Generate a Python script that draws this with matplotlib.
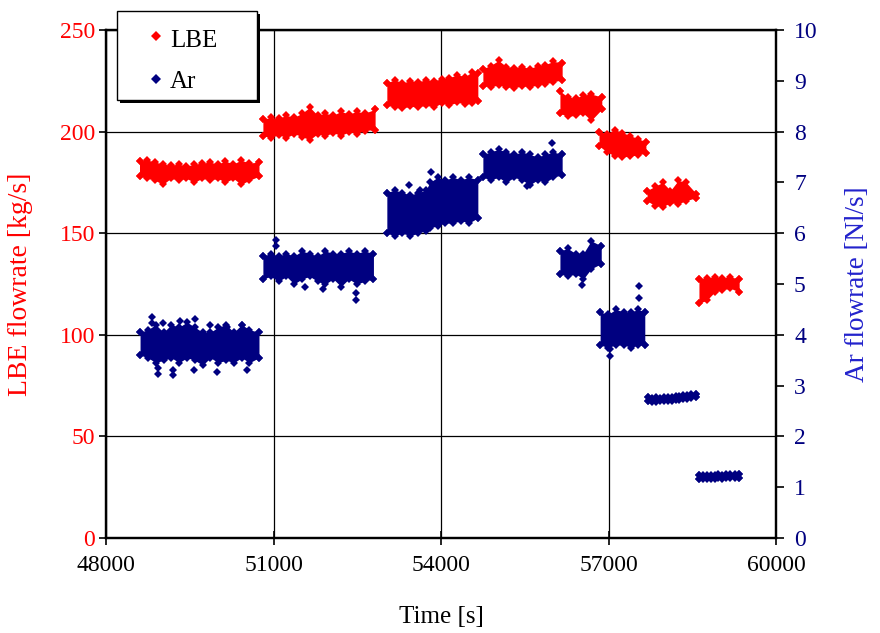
import matplotlib
matplotlib.use('Agg')
import matplotlib.pyplot as plt
from matplotlib.lines import Line2D
from matplotlib.patches import Rectangle

plt.rcParams['font.family'] = ['Liberation Serif', 'DejaVu Serif']

# ---------------- data ----------------
series_names = ['LBE', 'Ar']

# LBE flowrate [kg/s]: per run segment, sample times with the upper/lower edge of the scatter band
lbe_t = [
    [48600, 48740, 48880, 49020, 49160, 49300, 49440, 49580, 49720, 49860, 50000, 50140, 50280, 50420, 50560, 50740],
    [50810, 50950, 51090, 51230, 51370, 51510, 51650, 51790, 51930, 52070, 52210, 52350, 52490, 52630, 52820],
    [53030, 53170, 53310, 53450, 53590, 53730, 53870, 54010, 54150, 54290, 54430, 54560, 54660],
    [54750, 54890, 55030, 55170, 55310, 55450, 55590, 55730, 55870, 56010, 56170],
    [56130, 56270, 56410, 56550, 56690, 56880],
    [56830, 56970, 57110, 57250, 57390, 57530, 57670],
    [57690, 57830, 57970, 58110, 58250, 58390, 58570],
    [58620, 58760, 58900, 59040, 59180, 59340],
]
lbe_hi = [
    [185.5, 186, 185, 184, 183.5, 184, 183, 184, 184.5, 185, 184, 185.5, 184, 186, 184.5, 185],
    [206, 207, 206.5, 208, 207, 209, 212, 208, 209, 208, 210, 208.5, 210, 209, 211],
    [224, 225.5, 224, 225, 224.5, 225.5, 225, 226, 226.5, 228, 227, 229.5, 229],
    [231, 232.5, 235, 232, 231.5, 232, 231, 232.5, 233, 234.5, 234],
    [220, 217, 216.5, 218, 218.5, 217],
    [200, 199, 201, 199.5, 198, 196.5, 195],
    [171, 173, 175, 171, 176, 175, 169.5],
    [127.5, 128, 128.5, 128, 128.5, 127.5],
]
lbe_lo = [
    [178, 177, 176, 174, 177, 176, 177, 175, 177, 176, 177, 175, 177, 174, 176, 178],
    [198, 197, 198.5, 197, 199, 197.5, 196, 199, 198, 199.5, 198, 200, 199, 200.5, 201],
    [213, 212, 211.5, 212.5, 212, 213, 212, 214, 213, 214.5, 213.5, 214, 215],
    [222.5, 222, 223, 222, 221.5, 222.5, 222, 223, 223.5, 224.5, 225.5],
    [209, 207.5, 208, 209, 205.5, 211],
    [193, 190, 188, 187.5, 188, 188.5, 189.5],
    [166, 163.5, 163, 165, 164.5, 166, 167.5],
    [115.5, 117, 121, 122, 123, 121],
]

# Ar flowrate [Nl/s]
ar_t = [
    [48610, 48750, 48890, 49030, 49170, 49310, 49450, 49590, 49730, 49870, 50010, 50150, 50290, 50430, 50570, 50740],
    [50810, 50950, 51090, 51230, 51370, 51510, 51650, 51790, 51930, 52070, 52210, 52350, 52490, 52630, 52790],
    [53030, 53170, 53310, 53450, 53590, 53730, 53800, 53940, 54080, 54220, 54360, 54500, 54660],
    [54750, 54890, 55030, 55170, 55310, 55450, 55590, 55730, 55870, 56010, 56170],
    [56130, 56270, 56410, 56550, 56690, 56870],
    [56850, 56990, 57130, 57270, 57410, 57530, 57650],
    [57710, 57780, 57850, 57920, 57990, 58060, 58130, 58200, 58270, 58340, 58410, 58480, 58570],
    [58620, 58690, 58760, 58830, 58900, 58970, 59040, 59110, 59180, 59260, 59340],
]
ar_hi = [
    [4.05, 4.1, 4.2, 4.05, 4.2, 4.15, 4.25, 4.15, 4.05, 4.05, 4.15, 4.2, 4.05, 4.2, 4.1, 4.05],
    [5.55, 5.6, 5.55, 5.6, 5.55, 5.65, 5.6, 5.55, 5.65, 5.6, 5.6, 5.65, 5.6, 5.65, 5.6],
    [6.8, 6.85, 6.8, 6.75, 6.8, 6.85, 7.0, 7.1, 7.05, 7.1, 7.05, 7.1, 7.05],
    [7.55, 7.6, 7.65, 7.6, 7.55, 7.6, 7.55, 7.5, 7.55, 7.6, 7.55],
    [5.65, 5.7, 5.6, 5.6, 5.85, 5.75],
    [4.45, 4.4, 4.5, 4.45, 4.45, 4.5, 4.45],
    [2.77, 2.76, 2.77, 2.76, 2.77, 2.78, 2.78, 2.79, 2.80, 2.81, 2.82, 2.83, 2.84],
    [1.25, 1.25, 1.24, 1.25, 1.25, 1.26, 1.25, 1.26, 1.26, 1.26, 1.26],
]
ar_lo = [
    [3.6, 3.55, 3.45, 3.5, 3.55, 3.45, 3.55, 3.5, 3.4, 3.55, 3.45, 3.5, 3.45, 3.55, 3.45, 3.55],
    [5.1, 5.15, 5.05, 5.15, 5.0, 5.1, 5.15, 5.05, 5.0, 5.1, 4.95, 5.1, 5.0, 5.05, 5.1],
    [6.0, 5.95, 6.0, 5.95, 6.0, 6.05, 6.1, 6.15, 6.2, 6.2, 6.25, 6.2, 6.3],
    [7.1, 7.05, 7.1, 7.0, 7.1, 7.05, 6.95, 7.05, 7.0, 7.1, 7.15],
    [5.2, 5.15, 5.2, 5.1, 5.3, 5.4],
    [3.8, 3.75, 3.8, 3.8, 3.75, 3.8, 3.8],
    [2.69, 2.68, 2.68, 2.69, 2.69, 2.70, 2.70, 2.71, 2.72, 2.73, 2.74, 2.75, 2.77],
    [1.17, 1.16, 1.17, 1.17, 1.17, 1.18, 1.17, 1.18, 1.18, 1.18, 1.18],
]
# isolated Ar readings outside the bands
ar_out_t = [48818, 48818, 49026, 49325, 49594, 49862, 50162, 50430, 48937, 48937, 49206, 49206,
            49576, 49988, 50520, 51039, 51039, 52472, 52472, 51564, 51887, 53432, 53624, 53815,
            55982, 55535, 56520, 57551, 57551, 57027, 57027]
ar_out_v = [4.36, 4.24, 4.23, 4.27, 4.32, 4.2, 4.16, 4.19, 3.22, 3.34, 3.21, 3.3,
            3.31, 3.27, 3.31, 5.87, 5.74, 4.69, 4.82, 4.95, 4.9, 6.95, 6.85, 7.21,
            7.78, 6.92, 4.98, 4.97, 4.72, 3.58, 3.73]

x_ticks = [48000, 51000, 54000, 57000, 60000]
lbe_ticks = [0, 50, 100, 150, 200, 250]
ar_ticks = list(range(0, 11))

LBE_C = '#FF0000'
AR_C = '#000080'
MS = 4.4
W, H = 880, 633

fig = plt.figure(figsize=(8.8, 6.33), dpi=100)
ax = fig.add_axes([106 / W, 1 - 538 / H, 670 / W, 508 / H])
ax2 = ax.twinx()


def band(a, t, hi, lo, color):
    a.fill_between(t, lo, hi, color=color, lw=0, zorder=3)
    a.plot(t, hi, ls='none', marker='D', ms=MS, mew=0, color=color, zorder=3)
    a.plot(t, lo, ls='none', marker='D', ms=MS, mew=0, color=color, zorder=3)
    a.plot([t[0], t[0], t[-1], t[-1]], [hi[0], lo[0], hi[-1], lo[-1]], ls='none',
           marker='D', ms=MS, mew=0, color=color, zorder=3)


for t, hi, lo in zip(lbe_t, lbe_hi, lbe_lo):
    band(ax, t, hi, lo, LBE_C)
for t, hi, lo in zip(ar_t, ar_hi, ar_lo):
    band(ax2, t, hi, lo, AR_C)
ax2.plot(ar_out_t, ar_out_v, ls='none', marker='D', ms=MS, mew=0, color=AR_C, zorder=3)

ax.set_xlim(48000, 60000)
ax.set_ylim(0, 250)
ax2.set_ylim(0, 10)
ax.set_xticks(x_ticks)
ax.set_xticklabels([str(v) for v in x_ticks])
ax.set_yticks(lbe_ticks)
ax2.set_yticks(ar_ticks)

ax.grid(True, color='black', lw=0.9, zorder=0)
ax.set_axisbelow(True)

for a in (ax, ax2):
    for s in a.spines.values():
        s.set_linewidth(1.6)
        s.set_color('black')

ax.tick_params(axis='x', direction='inout', length=10, width=1.2, pad=7, labelsize=17, labelcolor='black')
ax.tick_params(axis='y', direction='out', length=5, width=1.2, pad=3, labelsize=17, labelcolor=LBE_C)
ax2.tick_params(axis='y', direction='out', length=6, width=1.2, pad=7, labelsize=17, labelcolor=AR_C)

ax.set_xlabel('Time [s]', fontsize=18)
ax.xaxis.label.set_va('center')
ax.xaxis.set_label_coords(0.5, -0.155)
ax.set_ylabel('LBE flowrate [kg/s]', fontsize=20, color=LBE_C)
ax.yaxis.label.set_va('center')
ax.yaxis.set_label_coords(-0.128, 0.5)
ax2.set_ylabel('Ar flowrate [Nl/s]', fontsize=19.5, color='#2222CC')
ax2.yaxis.label.set_va('center')
ax2.yaxis.set_label_coords(1.122, 0.5)

# legend box with a solid drop shadow (drawn in figure pixel space)
fig.add_artist(Rectangle((120 / W, 1 - 103 / H), 140 / W, 89 / H, transform=fig.transFigure,
                         facecolor='black', edgecolor='none', zorder=20))
fig.add_artist(Rectangle((117 / W, 1 - 100 / H), 140 / W, 89 / H, transform=fig.transFigure,
                         facecolor='white', edgecolor='black', lw=1.0, zorder=21))
for name, col, ym, yb in zip(series_names, [LBE_C, AR_C], [36, 79], [47, 88]):
    fig.add_artist(Line2D([156 / W], [1 - ym / H], transform=fig.transFigure, ls='none',
                          marker='D', ms=5, mew=0, color=col, zorder=22))
    fig.text(170 / W, 1 - yb / H, name, fontsize=18, va='baseline', ha='left', zorder=22)

fig.savefig('out.png', dpi=100)
